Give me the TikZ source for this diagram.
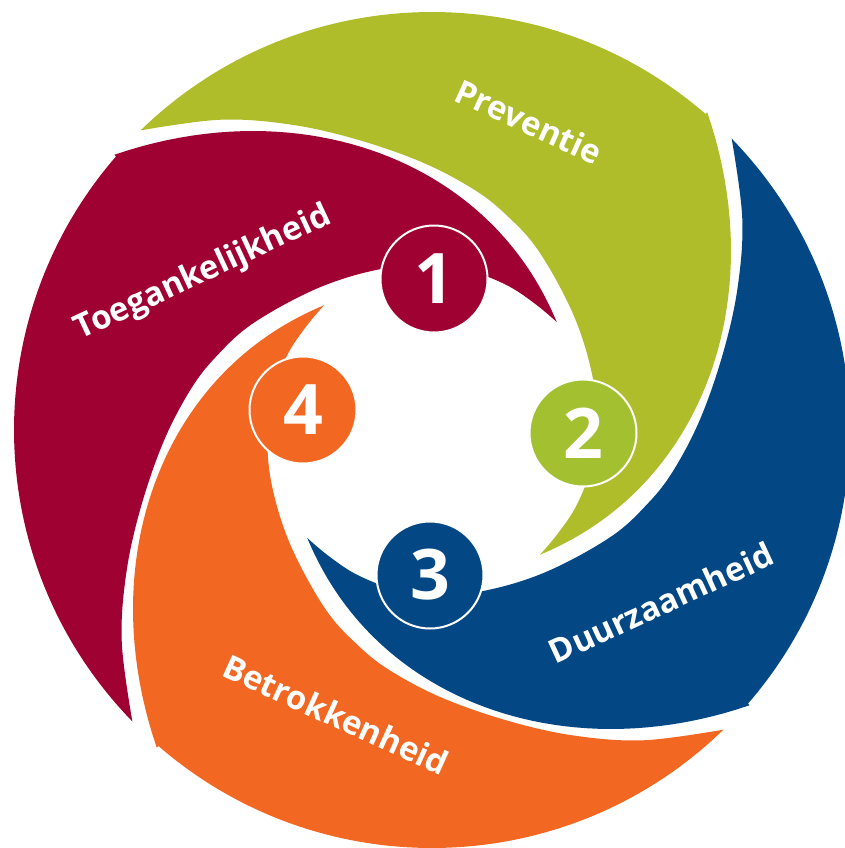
\documentclass[tikz,border=0pt]{standalone}
\usepackage{fontspec}
\setmainfont{Open Sans}
\definecolor{cgreen}{RGB}{175,189,42}
\definecolor{cgreenc}{RGB}{163,192,49}
\definecolor{cred}{RGB}{158,1,50}
\definecolor{cblue}{RGB}{3,72,133}
\definecolor{corange}{RGB}{242,103,34}
% one swirl band, in polar coordinates about the centre of the wheel
\newcommand\bandshape{(-134.2:418) arc[start angle=-134.2, end angle=-49.1, radius=418]
  -- plot[domain=-49.1:49.2, samples=60] (\x:{252-2.6*\x+0.01687*\x*\x})
  -- plot[smooth, tension=0.6] coordinates {(49.2:165) (40:163) (28:163) (14:163.5) (0:164.5) (-17.9:169) (-38.7:182) (-59:208) (-71.2:228) (-80.6:245) (-92.6:269) (-105.1:302) (-115.2:338) (-124.4:376) (-134.2:418)}
  -- cycle}
\begin{document}
\begin{tikzpicture}[x=1bp, y=-1bp,
  numc/.style={circle, draw=white, line width=2bp, minimum size=107bp, inner sep=0pt,
    text=white, font=\fontsize{70}{70}\selectfont\bfseries},
  lbl/.style={anchor=base, inner sep=0pt, text=white, font=\fontsize{33}{33}\selectfont\bfseries}]
\useasboundingbox (0,0) rectangle (845,848);
% bands
\begin{scope}[shift={(432,430)}]
  \fill[cgreen] \bandshape;
\end{scope}
\begin{scope}[shift={(432,430)}, rotate=-90]
  \fill[cblue] \bandshape;
\end{scope}
\begin{scope}[shift={(432,430)}, rotate=180]
  \fill[corange] \bandshape;
\end{scope}
\begin{scope}[shift={(432,430)}, rotate=90]
  \fill[cred] \bandshape;
\end{scope}
% labels
\node[lbl, rotate=-24.5] (lp) at (524,133) {Preventie};
\node[lbl, rotate=25] (lt) at (207,281) {Toegankelijkheid};
\node[lbl, rotate=24.8] (ld) at (666,614) {Duurzaamheid};
\node[lbl, rotate=-24.4] (lb) at (331,726) {Betrokkenheid};
% number circles
\node[numc, fill=cred] (n1) at (434,279) {1};
\node[numc, fill=cgreenc] (n2) at (583,433) {2};
\node[numc, fill=cblue] (n3) at (430,575) {3};
\node[numc, fill=corange] (n4) at (303,410) {4};
\end{tikzpicture}
\end{document}
